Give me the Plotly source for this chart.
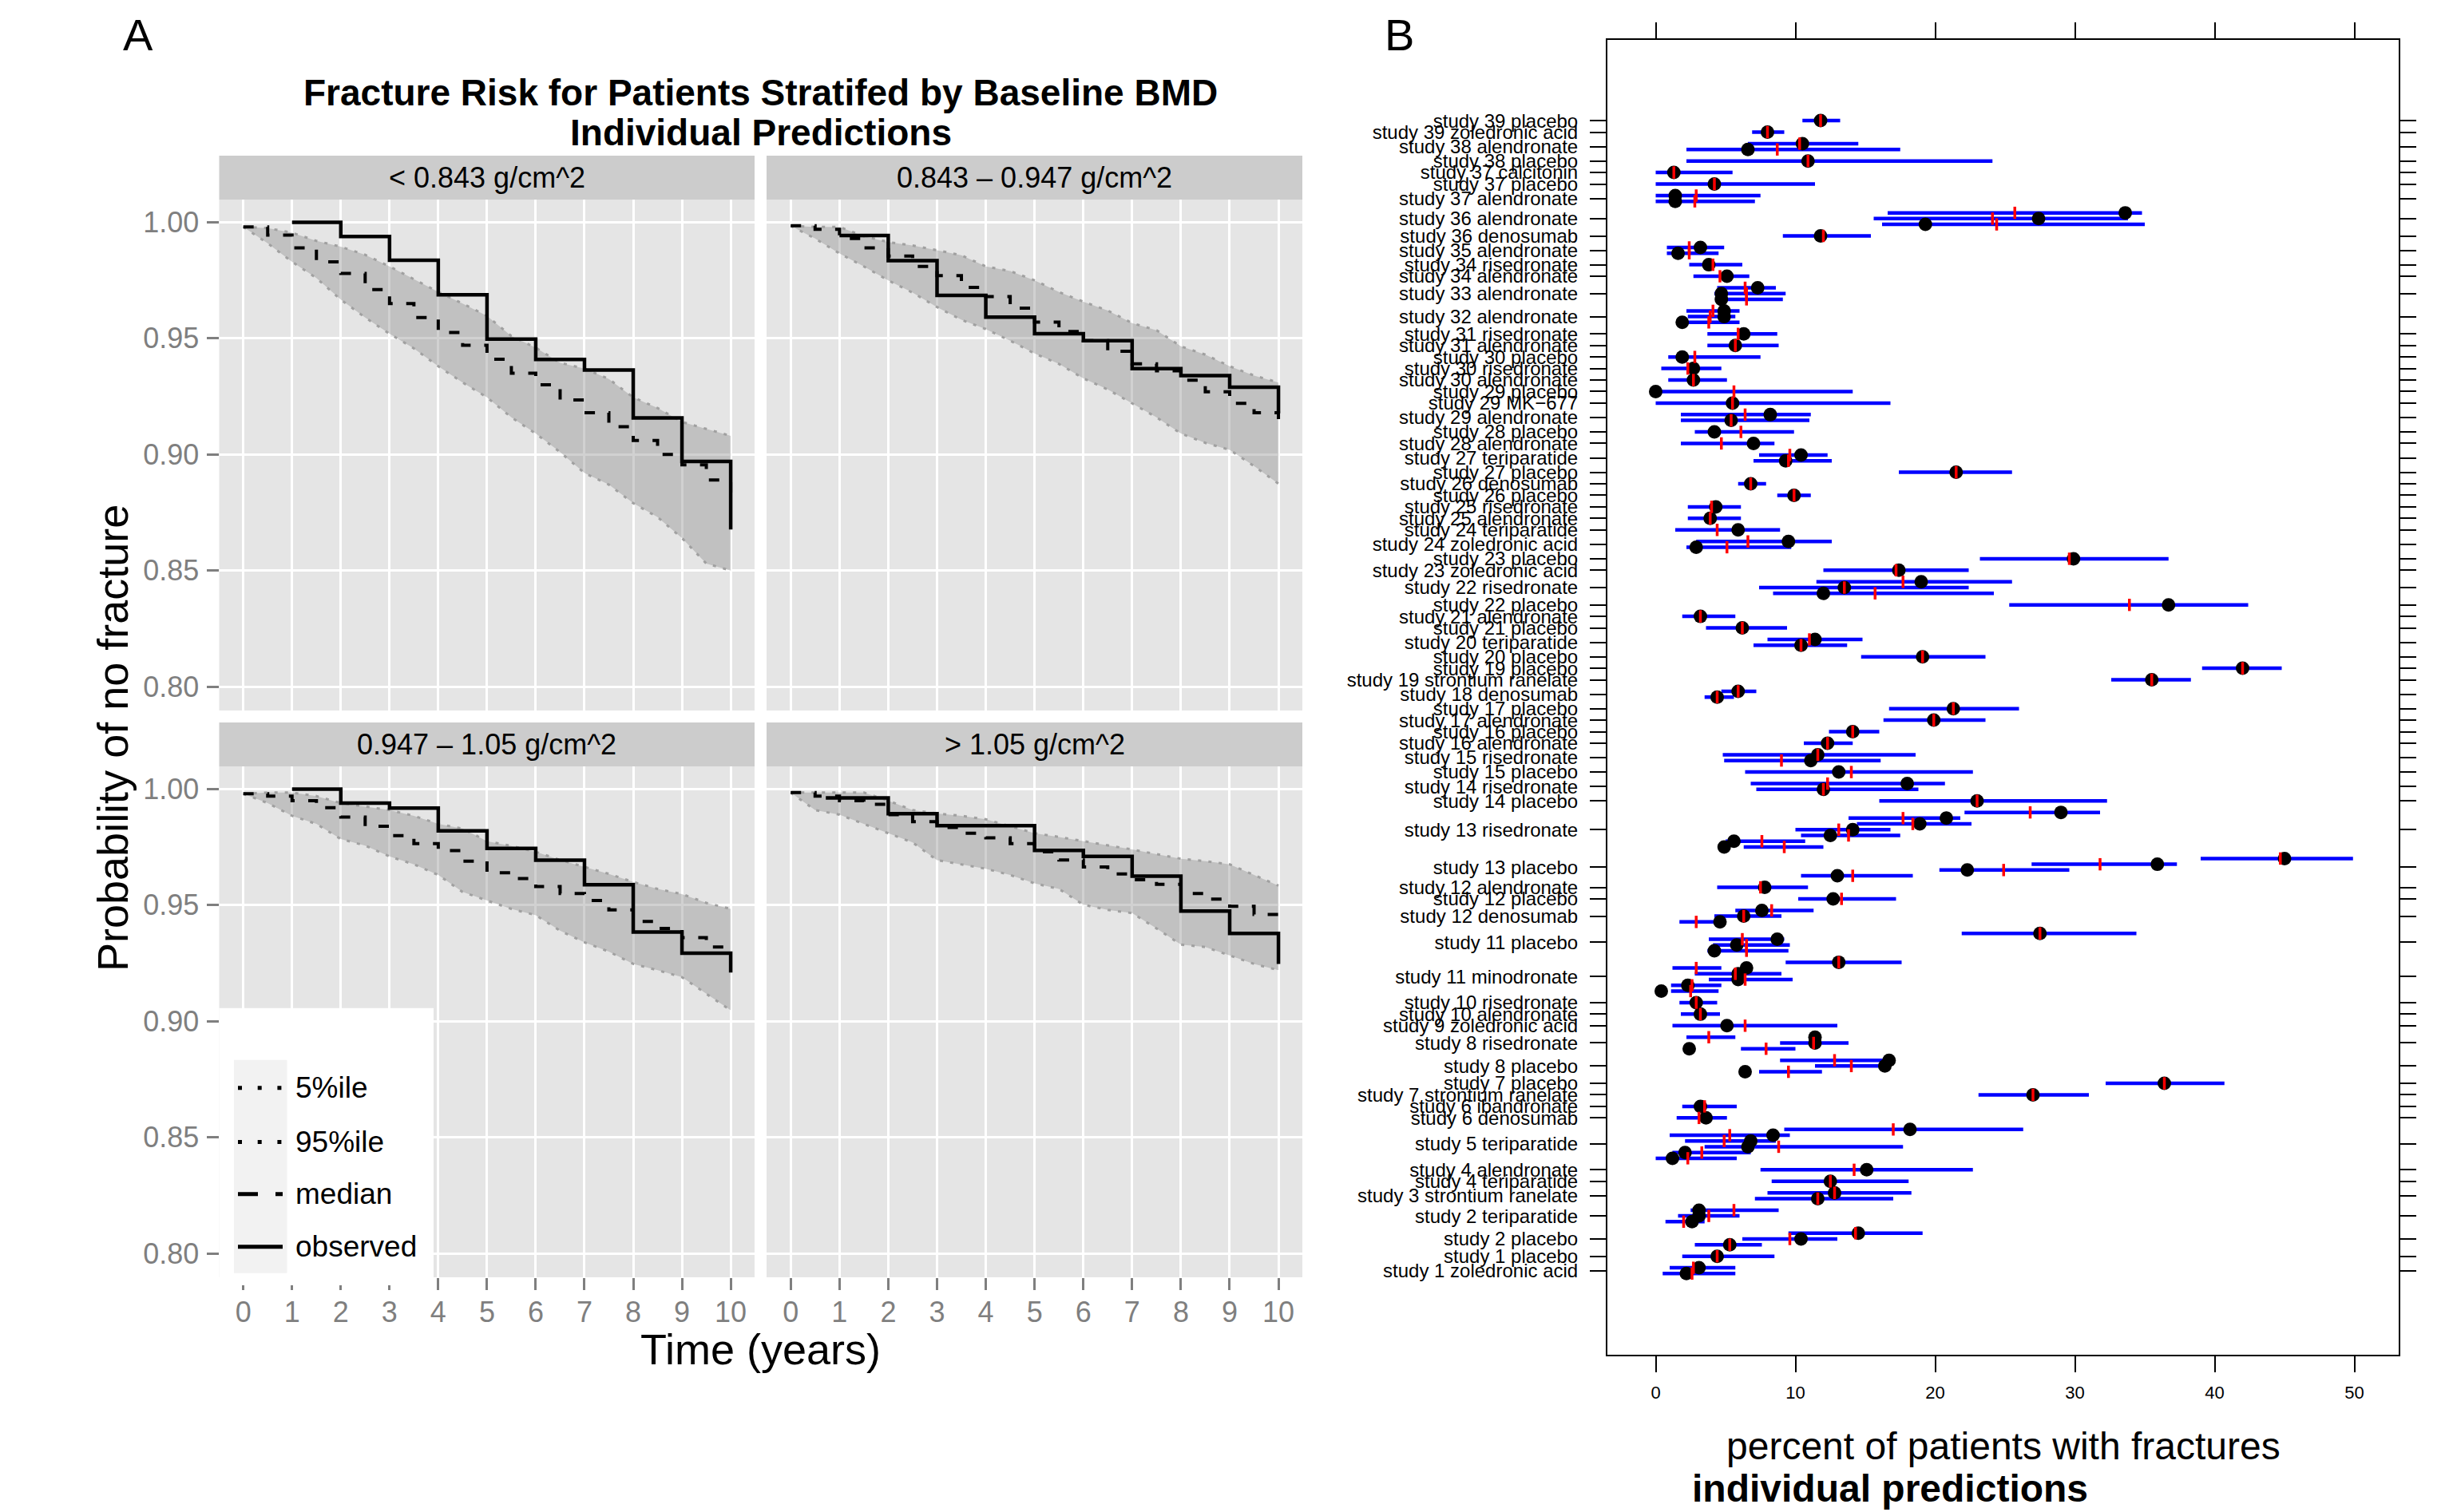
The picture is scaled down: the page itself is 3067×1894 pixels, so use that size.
import plotly.graph_objects as go

W, H = 3067, 1894
OFF = 8  # page body margin compensation
FONT = "Liberation Sans, Arial, Helvetica, sans-serif"

# ---------------- Panel A data ----------------
t_grid = [0, 0.5, 1, 1.5, 2, 2.5, 3, 3.5, 4, 4.5, 5, 5.5, 6, 6.5, 7, 7.5, 8, 8.5, 9, 9.5, 10]
time_ticks = [0, 1, 2, 3, 4, 5, 6, 7, 8, 9, 10]
prob_ticks = [0.80, 0.85, 0.90, 0.95, 1.00]
prob_tick_text = ["0.80", "0.85", "0.90", "0.95", "1.00"]
facet_labels = ["< 0.843 g/cm^2", "0.843 \u2013 0.947 g/cm^2", "0.947 \u2013 1.05 g/cm^2", "> 1.05 g/cm^2"]

f1_p95 = [0.998, 0.9975, 0.9955, 0.992, 0.9895, 0.986, 0.981, 0.9755, 0.970, 0.965, 0.9597,
          0.951, 0.946, 0.9395, 0.937, 0.9325, 0.9246, 0.920, 0.914, 0.911, 0.908]
f1_p05 = [0.998, 0.991, 0.983, 0.976, 0.9667, 0.959, 0.952, 0.9457, 0.938, 0.931, 0.9246,
          0.916, 0.909, 0.901, 0.892, 0.887, 0.879, 0.873, 0.864, 0.853, 0.850]
f1_med = [0.998, 0.9945, 0.989, 0.983, 0.978, 0.971, 0.965, 0.959, 0.9525, 0.947, 0.941,
          0.935, 0.930, 0.9235, 0.918, 0.912, 0.906, 0.900, 0.8955, 0.889, 0.880]
f1_obs_t = [1, 2, 3, 4, 5, 6, 7, 8, 9, 10]
f1_obs = [1.000, 0.9939, 0.9837, 0.9688, 0.9497, 0.9409, 0.9364, 0.9157, 0.8970, 0.8677]

f2_p95 = [0.9985, 0.998, 0.998, 0.994, 0.9915, 0.990, 0.988, 0.9858, 0.981, 0.979, 0.975,
          0.970, 0.9658, 0.962, 0.9566, 0.9535, 0.9466, 0.943, 0.938, 0.934, 0.931]
f2_p05 = [0.9985, 0.993, 0.9866, 0.981, 0.975, 0.9697, 0.9635, 0.958, 0.954, 0.949, 0.9435,
          0.939, 0.9328, 0.928, 0.922, 0.916, 0.909, 0.905, 0.902, 0.895, 0.8874]
f2_med = [0.9985, 0.997, 0.993, 0.989, 0.9855, 0.981, 0.977, 0.972, 0.968, 0.963, 0.957,
          0.953, 0.949, 0.9445, 0.939, 0.936, 0.932, 0.927, 0.922, 0.918, 0.9145]
f2_obs_t = [1, 2, 3, 4, 5, 6, 7, 8, 9, 10]
f2_obs = [0.9943, 0.9835, 0.9685, 0.9592, 0.952, 0.949, 0.937, 0.934, 0.929, 0.9177]

f3_p95 = [0.998, 0.9985, 0.9985, 0.997, 0.994, 0.9925, 0.991, 0.9885, 0.985, 0.983, 0.9776,
          0.9755, 0.973, 0.9695, 0.9666, 0.9635, 0.960, 0.957, 0.9548, 0.951, 0.9484]
f3_p05 = [0.998, 0.994, 0.9885, 0.985, 0.9785, 0.9757, 0.971, 0.9676, 0.963, 0.9557, 0.952,
          0.9484, 0.9457, 0.939, 0.934, 0.930, 0.9247, 0.922, 0.919, 0.912, 0.9047]
f3_med = [0.998, 0.997, 0.995, 0.992, 0.988, 0.984, 0.980, 0.9765, 0.9735, 0.969, 0.964,
          0.9615, 0.958, 0.955, 0.952, 0.948, 0.943, 0.940, 0.936, 0.932, 0.930]
f3_obs_t = [1, 2, 3, 4, 5, 6, 7, 8, 9, 10]
f3_obs = [1.000, 0.994, 0.9918, 0.982, 0.9745, 0.9694, 0.9588, 0.9384, 0.9293, 0.921]

f4_p95 = [0.9985, 0.9985, 0.9985, 0.9985, 0.995, 0.991, 0.9895, 0.9885, 0.987, 0.984, 0.981,
          0.9794, 0.9776, 0.976, 0.974, 0.972, 0.970, 0.969, 0.9676, 0.963, 0.9584]
f4_p05 = [0.9985, 0.991, 0.989, 0.985, 0.981, 0.977, 0.9694, 0.9676, 0.9657, 0.963, 0.9594,
          0.957, 0.9502, 0.948, 0.9466, 0.940, 0.933, 0.932, 0.9284, 0.9247, 0.922]
f4_med = [0.9985, 0.997, 0.995, 0.9935, 0.989, 0.986, 0.9835, 0.981, 0.979, 0.9765, 0.973,
          0.9695, 0.9665, 0.9635, 0.961, 0.959, 0.955, 0.9526, 0.9495, 0.946, 0.944]
f4_obs_t = [0.72, 2, 3, 4, 5, 6, 7, 8, 9, 10]
f4_obs = [0.9962, 0.9894, 0.9843, 0.9843, 0.9736, 0.971, 0.9625, 0.9475, 0.9378, 0.9247]

legend_labels = ["5%ile", "95%ile", "median", "observed"]

# ---------------- Panel B data (top to bottom) ----------------
arm_labels = [
    "study 39 placebo", "study 39 zoledronic acid", "study 38 alendronate", "study 38 placebo",
    "study 37 calcitonin", "study 37 placebo", "study 37 alendronate", "study 36 alendronate",
    "study 36 denosumab", "study 35 alendronate", "study 34 risedronate", "study 34 alendronate",
    "study 33 alendronate", "study 32 alendronate", "study 31 risedronate", "study 31 alendronate",
    "study 30 placebo", "study 30 risedronate", "study 30 alendronate", "study 29 placebo",
    "study 29 MK\u2212677", "study 29 alendronate", "study 28 placebo", "study 28 alendronate",
    "study 27 teriparatide", "study 27 placebo", "study 26 denosumab", "study 26 placebo",
    "study 25 risedronate", "study 25 alendronate", "study 24 teriparatide", "study 24 zoledronic acid",
    "study 23 placebo", "study 23 zoledronic acid", "study 22 risedronate", "study 22 placebo",
    "study 21 alendronate", "study 21 placebo", "study 20 teriparatide", "study 20 placebo",
    "study 19 placebo", "study 19 strontium ranelate", "study 18 denosumab", "study 17 placebo",
    "study 17 alendronate", "study 16 placebo", "study 16 alendronate", "study 15 risedronate",
    "study 15 placebo", "study 14 risedronate", "study 14 placebo", "study 13 risedronate",
    "study 13 placebo", "study 12 alendronate", "study 12 placebo", "study 12 denosumab",
    "study 11 placebo", "study 11 minodronate", "study 10 risedronate", "study 10 alendronate",
    "study 9 zoledronic acid", "study 8 risedronate", "study 8 placebo", "study 7 placebo",
    "study 7 strontium ranelate", "study 6 ibandronate", "study 6 denosumab", "study 5 teriparatide",
    "study 4 alendronate", "study 4 teriparatide", "study 3 strontium ranelate", "study 2 teriparatide",
    "study 2 placebo", "study 1 placebo", "study 1 zoledronic acid",
]
arm_nrows = [1, 1, 2, 1, 1, 1, 2, 3, 1, 2, 1, 1, 3, 3, 1, 1, 1, 1, 1, 1, 1, 2, 1, 1, 2,
             1, 1, 1, 1, 1, 1, 2, 1, 1, 3, 1, 1, 1, 2, 1, 1, 1, 2, 1, 1, 1, 1, 2, 1, 2,
             1, 7, 4, 1, 1, 3, 4, 6, 1, 1, 1, 3, 3, 1, 1, 1, 1, 6, 1, 1, 2, 3, 3, 1, 2]

obs_pct = [11.8, 8.0, 10.5, 6.6, 10.9, 1.3, 4.2, 1.4, 1.4, 33.6, 27.4, 19.3, 11.8, 3.2, 1.6,
           3.8, 5.1, 7.3, 4.7, 4.7, 4.9, 4.9, 1.9, 6.3, 5.7, 1.9, 2.7, 2.7, 0.0, 5.5, 8.2, 5.4,
           4.2, 7.0, 10.4, 9.3, 21.5, 6.8, 9.9, 4.3, 3.9, 5.9, 9.5, 2.9, 29.9, 17.4,
           19.0, 13.5, 12.0, 36.7, 3.2, 6.2, 11.4, 10.4, 19.1, 42.0, 35.5, 5.9, 4.4, 21.3, 19.9,
           14.1, 12.3, 11.6, 11.1, 13.1, 18.0, 12.0, 23.0,
           29.0, 20.8, 18.9, 14.1, 12.5, 5.6, 4.9, 45.0, 35.9, 22.3, 13.0, 7.8, 12.7, 7.6, 6.3, 4.6,
           27.5, 8.7, 5.8, 4.2, 13.1, 6.5, 5.9, 5.9, 2.3, 0.4, 2.9, 3.2, 5.1,
           11.4, 11.4, 2.4, 16.7, 16.4, 6.4, 36.4, 27.0, 3.2, 3.6,
           18.2, 8.4, 6.8, 6.6, 2.1, 1.2, 15.1, 12.5, 12.8, 11.6, 3.1, 3.1, 2.6,
           14.5, 10.4, 5.3, 4.4, 3.1, 2.2]
pred_pct = [11.8, 8.0, 10.3, 8.7, 10.9, 1.3, 4.2, 2.9, 2.8, 25.7, 24.1, 24.4, 12.0, 2.4, 2.4,
            4.1, 4.6, 6.4, 6.5, 6.5, 4.1, 3.9, 3.8, 5.9, 5.7, 2.8, 2.3, 2.7, 5.6, 5.5, 6.4, 5.4,
            6.1, 4.7, 9.6, 9.5, 21.5, 6.8, 9.9, 4.0, 3.9, 4.4, 6.6, 5.1, 29.6, 17.2,
            17.7, 13.5, 15.7, 33.9, 3.2, 6.2, 11.0, 10.4, 19.1, 42.0, 35.5, 5.9, 4.4, 21.3, 19.9,
            14.1, 12.3, 11.6, 9.0, 14.0, 12.3, 12.0, 23.0,
            26.8, 17.7, 18.4, 13.1, 13.8, 7.6, 9.2, 44.7, 31.8, 24.9, 14.1, 7.5, 13.3, 8.3, 6.3, 2.9,
            27.5, 6.2, 6.5, 6.5, 13.1, 2.9, 5.7, 6.4, 2.6, 2.5, 2.9, 3.2, 6.4,
            3.8, 11.3, 7.9, 12.8, 14.0, 9.5, 36.4, 27.0, 3.5, 3.1,
            17.0, 5.3, 4.9, 8.8, 3.3, 2.3, 14.2, 12.5, 12.8, 11.6, 5.6, 3.8, 2.0,
            14.3, 9.6, 5.3, 4.4, 2.7, 2.6]
lo_pct = [10.5, 6.9, 6.6, 2.2, 2.2, 0.0, 0.0, 0.0, 0.0, 16.6, 15.6, 16.2, 9.1, 0.8, 0.8,
          2.4, 2.7, 4.4, 4.2, 4.3, 2.2, 2.3, 2.2, 3.7, 3.7, 0.9, 0.4, 0.9, 0.0, 0.0, 1.8, 1.8,
          2.8, 1.8, 7.4, 7.0, 17.4, 5.9, 8.7, 2.3, 2.3, 1.4, 2.9, 2.2, 23.2, 12.0,
          11.5, 7.4, 8.4, 25.3, 1.9, 3.6, 8.0, 7.0, 14.7, 39.1, 32.6, 4.7, 3.5, 16.7, 16.3,
          12.4, 10.6, 4.8, 4.9, 6.4, 6.8, 7.2, 16.0,
          22.1, 13.8, 14.4, 10.0, 10.4, 5.0, 6.3, 39.0, 26.9, 20.3, 10.4, 4.4, 10.2, 5.7, 4.2, 1.7,
          21.9, 3.8, 4.1, 3.7, 9.3, 1.2, 2.8, 3.8, 1.1, 1.1, 1.7, 1.8, 1.2,
          2.2, 8.9, 6.1, 8.9, 11.4, 7.4, 32.2, 23.1, 1.9, 1.5,
          9.2, 1.0, 2.1, 3.5, 1.2, 0.0, 7.5, 8.3, 8.0, 7.1, 2.5, 1.6, 0.7,
          9.5, 6.2, 2.8, 1.9, 1.0, 0.5]
hi_pct = [13.2, 9.2, 14.5, 17.5, 24.1, 5.5, 11.4, 7.5, 7.1, 34.8, 33.8, 35.0, 15.4, 4.9, 4.5,
          6.2, 6.7, 8.6, 9.3, 9.1, 6.0, 5.7, 6.0, 8.7, 8.8, 7.5, 4.7, 5.1, 14.1, 16.8, 11.1, 11.0,
          9.9, 8.5, 12.3, 12.6, 25.5, 7.9, 11.1, 6.1, 6.1, 8.9, 12.6, 9.7, 36.7, 22.4,
          25.5, 22.4, 24.2, 42.4, 5.7, 9.4, 14.8, 13.7, 23.6, 44.8, 38.3, 7.2, 5.6, 26.0, 23.6,
          16.0, 14.1, 18.6, 16.1, 22.7, 20.7, 18.8, 32.3,
          31.8, 21.8, 22.6, 16.8, 17.5, 10.7, 12.0, 49.9, 37.3, 29.6, 18.4, 10.9, 17.2, 11.3, 9.0, 4.7,
          34.4, 9.2, 9.6, 9.5, 17.6, 4.7, 9.0, 9.8, 4.7, 4.5, 4.4, 4.6, 13.0,
          5.7, 13.8, 10.0, 17.0, 16.8, 11.9, 40.7, 31.0, 5.8, 5.1,
          26.3, 9.6, 8.6, 17.7, 6.8, 5.8, 22.7, 18.1, 18.3, 17.0, 8.8, 6.0, 3.5,
          19.1, 13.0, 7.6, 8.5, 5.7, 5.7]
pct_ticks = [0, 10, 20, 30, 40, 50]

# ---------------- helpers ----------------
def px(x):
    return (x - OFF) / W


def py(y):
    return 1 - (y - OFF) / H


fig = go.Figure()

GRAY_TXT = "#7F7F7F"
facet_data = [
    (f1_p05, f1_p95, f1_med, f1_obs_t, f1_obs),
    (f2_p05, f2_p95, f2_med, f2_obs_t, f2_obs),
    (f3_p05, f3_p95, f3_med, f3_obs_t, f3_obs),
    (f4_p05, f4_p95, f4_med, f4_obs_t, f4_obs),
]
for k, (p05, p95, med, ot, ov) in enumerate(facet_data):
    xa = "x" if k == 0 else f"x{k+1}"
    ya = "y" if k == 0 else f"y{k+1}"
    rib_line = dict(color="#A0A0A0", width=3, dash="4px,9px")
    fig.add_trace(go.Scatter(x=t_grid, y=p05, xaxis=xa, yaxis=ya, mode="lines",
                             line=rib_line, showlegend=False, hoverinfo="skip"))
    fig.add_trace(go.Scatter(x=t_grid, y=p95, xaxis=xa, yaxis=ya, mode="lines",
                             line=rib_line, fill="tonexty", fillcolor="rgba(140,140,140,0.40)",
                             showlegend=False, hoverinfo="skip"))
    fig.add_trace(go.Scatter(x=t_grid, y=med, xaxis=xa, yaxis=ya, mode="lines", line_shape="hv",
                             line=dict(color="black", width=4, dash="13px,17px"),
                             showlegend=False, hoverinfo="skip"))
    fig.add_trace(go.Scatter(x=ot, y=ov, xaxis=xa, yaxis=ya, mode="lines", line_shape="hv",
                             line=dict(color="black", width=4.5),
                             showlegend=False, hoverinfo="skip"))

# Panel B positions
total_slots = sum(arm_nrows) + (len(arm_nrows) - 1)
pos = total_slots - 1
row_y = []
arm_tick_y = []
for n in arm_nrows:
    ys = [pos - i for i in range(n)]
    row_y.extend(ys)
    arm_tick_y.append(sum(ys) / n)
    pos = ys[-1] - 2

seg_x, seg_y = [], []
for lo, hi, yv in zip(lo_pct, hi_pct, row_y):
    seg_x += [lo, hi, None]
    seg_y += [yv, yv, None]

fig.add_trace(go.Scatter(x=seg_x, y=seg_y, xaxis="x5", yaxis="y5", mode="lines",
                         line=dict(color="#0000FF", width=4.5), showlegend=False, hoverinfo="skip"))
fig.add_trace(go.Scatter(x=obs_pct, y=row_y, xaxis="x5", yaxis="y5", mode="markers",
                         marker=dict(color="black", size=17, line=dict(width=0)),
                         showlegend=False, hoverinfo="skip"))
fig.add_trace(go.Scatter(x=pred_pct, y=row_y, xaxis="x5", yaxis="y5", mode="markers",
                         marker=dict(symbol="line-ns", size=11, color="red",
                                     line=dict(color="red", width=3.5)),
                         showlegend=False, hoverinfo="skip"))

# ---------------- layout ----------------
XR = [-0.495, 10.49]
YR = [0.7897, 1.0098]
col_dom = [[px(274.5), px(945)], [px(960), px(1631)]]
row_dom = [[py(890), py(250)], [py(1600), py(960)]]

def a_xaxis(col, row, show):
    d = dict(domain=col_dom[col], range=XR, tickvals=time_ticks, showgrid=True,
             gridcolor="white", gridwidth=3, zeroline=False, showline=False,
             tickfont=dict(size=36, color=GRAY_TXT, family=FONT))
    if show:
        d.update(ticks="outside", ticklen=15, tickwidth=3, tickcolor=GRAY_TXT,
                 showticklabels=True, ticklabelstandoff=-3)
    else:
        d.update(ticks="", showticklabels=False)
    return d

def a_yaxis(col, row, show):
    d = dict(domain=row_dom[row], range=YR, tickvals=prob_ticks, ticktext=prob_tick_text,
             showgrid=True, gridcolor="white", gridwidth=3, zeroline=False, showline=False,
             tickfont=dict(size=36, color=GRAY_TXT, family=FONT))
    if show:
        d.update(ticks="outside", ticklen=15, tickwidth=3, tickcolor=GRAY_TXT,
                 showticklabels=True, ticklabelstandoff=2)
    else:
        d.update(ticks="", showticklabels=False)
    return d

layout = dict(
    width=W, height=H, margin=dict(l=0, r=0, t=0, b=0),
    paper_bgcolor="white", plot_bgcolor="white", showlegend=False, hovermode=False,
    font=dict(family=FONT, color="black"),
    xaxis=dict(a_xaxis(0, 0, False), anchor="y"),
    yaxis=dict(a_yaxis(0, 0, True), anchor="x"),
    xaxis2=dict(a_xaxis(1, 0, False), anchor="y2"),
    yaxis2=dict(a_yaxis(1, 0, False), anchor="x2"),
    xaxis3=dict(a_xaxis(0, 1, True), anchor="y3"),
    yaxis3=dict(a_yaxis(0, 1, True), anchor="x3"),
    xaxis4=dict(a_xaxis(1, 1, True), anchor="y4"),
    yaxis4=dict(a_yaxis(1, 1, False), anchor="x4"),
    xaxis5=dict(domain=[px(2013), px(3004)], range=[-3.457, 53.17], anchor="y5",
                tickvals=pct_ticks, ticks="outside", ticklen=20, tickwidth=2, tickcolor="black",
                showline=True, linecolor="black", linewidth=2, mirror="ticks",
                showgrid=False, zeroline=False, ticklabelstandoff=7,
                tickfont=dict(size=22, family=FONT, color="black")),
    yaxis5=dict(domain=[py(1697), py(50)], range=[-14.08, 214.0], anchor="x5",
                tickvals=arm_tick_y, ticktext=arm_labels, ticks="outside", ticklen=20,
                tickwidth=2, tickcolor="black", showline=True, linecolor="black", linewidth=2,
                mirror="ticks", showgrid=False, zeroline=False, ticklabelstandoff=10,
                tickfont=dict(size=24, family=FONT, color="black")),
)

shapes = []
axis_ids = ["", "2", "3", "4"]
for aid in axis_ids:
    shapes.append(dict(type="rect", xref=f"x{aid} domain", yref=f"y{aid} domain",
                       x0=0, x1=1, y0=0, y1=1, fillcolor="#E5E5E5", line=dict(width=0),
                       layer="below"))
# strips
strip_rows = [(195, 250), (905, 960)]
strip_cols = [(274.5, 945), (960, 1631)]
annotations = []
for r, (st, sb) in enumerate(strip_rows):
    for c, (sl, sr) in enumerate(strip_cols):
        shapes.append(dict(type="rect", xref="paper", yref="paper", x0=px(sl), x1=px(sr),
                           y0=py(sb), y1=py(st), fillcolor="#CCCCCC", line=dict(width=0),
                           layer="below"))
        annotations.append(dict(x=px((sl + sr) / 2), y=py((st + sb) / 2), xref="paper",
                                yref="paper", text=facet_labels[r * 2 + c], showarrow=False,
                                xanchor="center", yanchor="middle",
                                font=dict(size=36, color="black", family=FONT)))

# legend
shapes.append(dict(type="rect", xref="paper", yref="paper", x0=px(274.5), x1=px(543),
                   y0=py(1610), y1=py(1262.7), fillcolor="white", line=dict(width=0),
                   layer="above"))
shapes.append(dict(type="rect", xref="paper", yref="paper", x0=px(293), x1=px(359.5),
                   y0=py(1594.7), y1=py(1327.8), fillcolor="#F2F2F2", line=dict(width=0),
                   layer="above"))
key_y = [1362.8, 1430.6, 1495.7, 1561.8]
key_dash = ["5px,19.7px", "5px,19.7px", "25px,22px", "solid"]
for yk, dsh, lab in zip(key_y, key_dash, legend_labels):
    shapes.append(dict(type="line", xref="paper", yref="paper", x0=px(298), x1=px(354),
                       y0=py(yk), y1=py(yk), line=dict(color="black", width=5, dash=dsh),
                       layer="above"))
    annotations.append(dict(x=px(368), y=py(yk), xref="paper", yref="paper", text=lab,
                            showarrow=False, xanchor="left", yanchor="middle",
                            font=dict(size=37, color="black", family=FONT)))

# titles and labels
annotations += [
    dict(x=px(952.7), y=py(116), text="<b>Fracture Risk for Patients Stratifed by Baseline BMD</b>",
         font=dict(size=46, family=FONT)),
    dict(x=px(952.7), y=py(166), text="<b>Individual Predictions</b>", font=dict(size=46, family=FONT)),
    dict(x=px(141), y=py(925), text="Probability of no fracture", textangle=-90,
         font=dict(size=54, family=FONT)),
    dict(x=px(952.7), y=py(1690), text="Time (years)", font=dict(size=54, family=FONT)),
    dict(x=px(173), y=py(44), text="A", font=dict(size=56, family=FONT)),
    dict(x=px(1753), y=py(44), text="B", font=dict(size=56, family=FONT)),
    dict(x=px(2508.5), y=py(1811), text="percent of patients with fractures",
         font=dict(size=48, family=FONT)),
]
for a in annotations[-7:]:
    a.update(xref="paper", yref="paper", showarrow=False, xanchor="center", yanchor="middle")
annotations.append(dict(x=px(2117), y=py(1864), xref="paper", yref="paper",
                        text="<b>individual predictions</b>", showarrow=False,
                        xanchor="left", yanchor="middle", font=dict(size=48, family=FONT)))

layout["shapes"] = shapes
layout["annotations"] = annotations
fig.update_layout(**layout)
fig.write_html("out.html")
